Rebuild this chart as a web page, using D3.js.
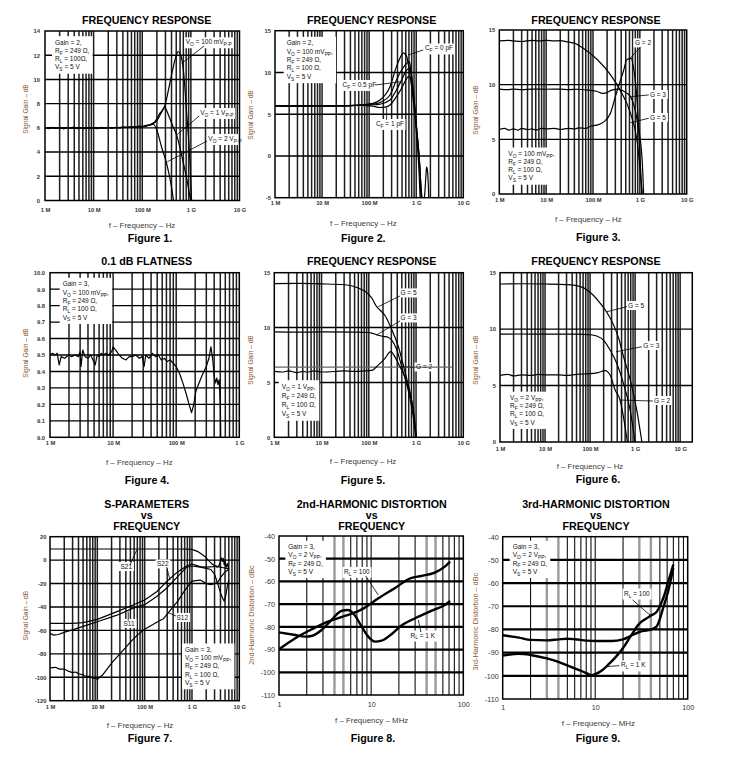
<!DOCTYPE html>
<html><head><meta charset="utf-8">
<script src="https://cdnjs.cloudflare.com/ajax/libs/d3/7.8.5/d3.min.js"></script>
<style>body{margin:0;background:#fff}text{font-family:"Liberation Sans",Arial,sans-serif}</style>
</head><body><svg id="c" width="732" height="773"></svg>
<script>
// ================= DATA =================
const hzTicks = [1e6, 1e7, 1e8, 1e9, 1e10];
const hzTickLabels = ["1 M", "10 M", "100 M", "1 G", "10 G"];
const hzTicks4 = [1e6, 1e7, 1e8, 1e9];
const hzTickLabels4 = ["1 M", "10 M", "100 M", "1 G"];
const mhzTicks = [1, 10, 100];
const mhzTickLabels = ["1", "10", "100"];

const fig1Y = [0, 2, 4, 6, 8, 10, 12, 14];
const fig2Y = [-5, 0, 5, 10, 15];
const gainY = [0, 5, 10, 15];
const fig4Y = [9.0, 9.1, 9.2, 9.3, 9.4, 9.5, 9.6, 9.7, 9.8, 9.9, 10.0];
const fig7Y = [-120, -100, -80, -60, -40, -20, 0, 20];
const distY = [-110, -100, -90, -80, -70, -60, -50, -40];

// Figure 1 (Hz, dB)
const fig1_100mV = [[1e6,6.0],[1.2e6,5.93],[1.4e6,6.05],[1.7e6,5.95],[2e6,6.04],[2.4e6,5.92],[2.8e6,6.03],[3.3e6,5.96],[3.8e6,6.06],[4.5e6,5.94],[5.3e6,6.02],[6.2e6,5.93],[7.2e6,6.05],[8.5e6,5.97],[1e7,6.02],[1.2e7,5.94],[1.45e7,6.04],[1.7e7,5.96],[2e7,6.05],[2.4e7,5.97],[2.9e7,6.04],[3.5e7,6.0],[4.2e7,6.07],[5e7,6.03],[6e7,6.1],[7e7,6.06],[8.5e7,6.14],[1e8,6.12],[1.2e8,6.2],[1.5e8,6.3],[1.8e8,6.5],[2.3e8,7.2],[2.9e8,7.8],[3.7e8,9.7],[4.7e8,11.6],[5.5e8,12.3],[6.4e8,11.8],[7e8,10.8],[8.2e8,7.2],[9.6e8,3.1],[1.04e9,-0.3]];
const fig1_1V = [[1e6,6.0],[3e6,5.98],[1e7,6.0],[3e7,6.02],[1e8,6.1],[1.5e8,6.28],[2e8,6.6],[2.5e8,7.3],[2.9e8,7.7],[3.5e8,7.0],[4.2e8,6.2],[5.1e8,5.4],[7e8,3.1],[8.5e8,1.5],[1.01e9,-0.3]];
const fig1_2V = [[1e6,6.0],[3e6,6.02],[1e7,5.98],[3e7,6.02],[1e8,6.1],[1.5e8,6.25],[1.7e8,6.3],[2e8,5.8],[2.5e8,4.4],[3.15e8,3.1],[4e8,1.1],[4.5e8,-0.3]];

// Figure 2
const fig2_cf0 = [[1e6,6.0],[3e6,6.03],[1e7,5.98],[3e7,6.02],[6.3e7,6.1],[1.2e8,6.3],[1.7e8,6.7],[2.77e8,8.3],[3.8e8,10.7],[4.9e8,12.1],[5.3e8,12.35],[5.8e8,12.2],[6.3e8,11.9],[7e8,10.5],[8.7e8,6.5],[1.02e9,2.5],[1.15e9,-2],[1.22e9,-5.5]];
const fig2_cf025 = [[1e6,6.02],[3e6,5.97],[1e7,6.03],[3e7,5.98],[6.3e7,6.1],[1.2e8,6.2],[1.7e8,6.4],[2.77e8,7.3],[3.8e8,9.1],[4.9e8,10.3],[6.3e8,11.1],[7.1e8,11.3],[7.6e8,10.5],[8.7e8,7.5],[1.02e9,3.2],[1.2e9,-1.5],[1.28e9,-5.5]];
const fig2_cf05 = [[1e6,5.98],[3e6,6.02],[1e7,5.97],[3e7,6.03],[6.3e7,6.08],[1.2e8,6.1],[1.7e8,6.2],[2.77e8,6.7],[3.8e8,7.9],[4.9e8,9.1],[6.3e8,10.3],[7.35e8,10.5],[8e8,9.5],[8.7e8,7.8],[1.02e9,3.4],[1.2e9,-1.7],[1.3e9,-5.5]];
const fig2_cf1 = [[1e6,6.0],[3e6,5.97],[1e7,6.02],[3e7,5.98],[6.3e7,6.05],[1.2e8,5.95],[1.7e8,5.8],[2.2e8,5.85],[2.77e8,6.1],[3.8e8,7.1],[4.9e8,8.1],[6.3e8,9.3],[6.8e8,9.5],[7.5e8,9.3],[8.7e8,7.3],[1.02e9,3.1],[1.2e9,-1.7],[1.3e9,-4.5],[1.38e9,-5.3],[1.5e9,-4.8],[1.6e9,-2.5],[1.66e9,-1.3],[1.75e9,-2],[1.86e9,-5.5]];

// Figure 3
const fig3_g5 = [[1e6,14.0],[1.5e6,14.05],[2e6,14.0],[3e6,13.95],[5e6,14.05],[7e6,14.0],[1e7,14.05],[1.5e7,14.0],[2e7,14.02],[3e7,13.9],[4e7,13.8],[6.3e7,13.3],[1.23e8,12.3],[2.37e8,10.9],[3.8e8,9.5],[6.3e8,7.4],[8.7e8,4.9],[1.14e9,-0.3]];
const fig3_g3 = [[1e6,9.6],[1.5e6,9.55],[2e6,9.6],[3e6,9.55],[5e6,9.6],[1e7,9.58],[2e7,9.6],[3e7,9.55],[5e7,9.58],[8e7,9.5],[1.2e8,9.4],[1.6e8,9.2],[1.9e8,9.25],[2.5e8,9.5],[3.5e8,9.6],[4.5e8,9.4],[6.3e8,8.9],[8.7e8,6.8],[1.12e9,3.1],[1.21e9,-0.3]];
const fig3_g2 = [[1e6,5.9],[1.3e6,6.0],[1.6e6,5.85],[2e6,5.95],[2.5e6,5.85],[3e6,6.0],[4e6,5.9],[5e6,5.95],[6e6,5.85],[8e6,6.0],[1e7,5.95],[1.5e7,6.0],[2e7,5.9],[3e7,6.0],[4e7,5.95],[5e7,6.05],[7e7,6.0],[8.8e7,6.2],[1.2e8,6.3],[1.7e8,6.6],[2.37e8,7.4],[3e8,8.9],[4.5e8,11.3],[5.3e8,12.3],[6.5e8,12.4],[7.3e8,11.6],[8.7e8,8.6],[1e9,3.7],[1.11e9,-0.3]];

// Figure 4
const fig4_flat = [[1e6,9.50],[1.1e6,9.51],[1.2e6,9.50],[1.3e6,9.51],[1.4e6,9.44],[1.5e6,9.49],[1.7e6,9.48],[2e6,9.50],[2.2e6,9.49],[2.5e6,9.50],[2.8e6,9.49],[3e6,9.52],[3.1e6,9.43],[3.3e6,9.53],[3.6e6,9.49],[4e6,9.48],[4.4e6,9.50],[4.8e6,9.47],[5.2e6,9.44],[5.6e6,9.50],[6e6,9.49],[6.5e6,9.51],[7e6,9.50],[7.7e6,9.51],[8.5e6,9.50],[9.5e6,9.52],[1.0e7,9.55],[1.1e7,9.53],[1.25e7,9.50],[1.4e7,9.48],[1.6e7,9.47],[1.8e7,9.49],[2e7,9.49],[2.3e7,9.50],[2.6e7,9.48],[2.9e7,9.49],[3.1e7,9.43],[3.3e7,9.50],[3.7e7,9.48],[4.2e7,9.51],[4.7e7,9.49],[5.2e7,9.50],[5.8e7,9.47],[6.5e7,9.48],[7.2e7,9.46],[8e7,9.47],[9e7,9.45],[1e8,9.43],[1.15e8,9.38],[1.3e8,9.32],[1.45e8,9.26],[1.6e8,9.2],[1.75e8,9.15],[1.9e8,9.2],[2.05e8,9.28],[2.3e8,9.33],[2.6e8,9.38],[3e8,9.43],[3.3e8,9.48],[3.55e8,9.55],[3.8e8,9.47],[4e8,9.37],[4.2e8,9.33],[4.4e8,9.36],[4.6e8,9.32],[4.8e8,9.35],[5e8,9.2],[5.1e8,8.95]];

// Figure 5
const fig5_g5 = [[1e6,14],[3e6,14.02],[1e7,13.98],[3.1e7,13.9],[6e7,13.6],[8.3e7,13.3],[1.15e8,12.7],[1.47e8,11.9],[1.72e8,11.6],[2.2e8,11.1],[3e8,9.9],[4.2e8,8.3],[5.8e8,6.0],[8e8,3.4],[1.04e9,-0.3]];
const fig5_g3 = [[1e6,9.6],[3e6,9.58],[1e7,9.6],[5e7,9.58],[1e8,9.55],[1.15e8,9.5],[1.6e8,9.3],[2e8,9.2],[2.6e8,9.1],[3e8,8.9],[3.9e8,8.0],[5e8,6.4],[6.8e8,4.3],[8.7e8,1.9],[1.01e9,-0.3]];
const fig5_g2 = [[1e6,6.0],[1.5e6,5.95],[2e6,6.05],[3e6,5.9],[4e6,6.0],[5e6,5.95],[7e6,6.05],[1e7,5.95],[2e7,6.0],[3e7,6.05],[5e7,6.0],[8e7,6.05],[1.15e8,6.1],[1.6e8,6.6],[2.2e8,7.2],[2.9e8,7.8],[3.6e8,7.3],[4.6e8,6.4],[5.8e8,5.5],[7.4e8,4.0],[9.2e8,1.9],[1.02e9,-0.3]];
const fig5_ref = [[1e6,6.4],[5.7e9,6.4]];

// Figure 6
const fig6_g5 = [[1e6,14],[3e6,14.02],[1e7,14],[3e7,13.95],[4.3e7,13.9],[8.4e7,13.5],[1.18e8,13.0],[1.67e8,12.3],[2.35e8,11.5],[3.3e8,10.4],[4.3e8,9.2],[5.5e8,7.6],[7.8e8,5.5],[1.09e9,2.8],[1.45e9,-0.3]];
const fig6_g3 = [[1e6,9.55],[3e6,9.57],[1e7,9.55],[5e7,9.55],[1e8,9.5],[1.4e8,9.39],[1.98e8,9.03],[2.78e8,8.15],[3.91e8,6.97],[5.5e8,5.2],[7.76e8,2.83],[1.02e9,-0.3]];
const fig6_g2 = [[1e6,5.9],[1.5e6,6.0],[2e6,5.85],[3e6,5.95],[5e6,5.9],[7e6,6.0],[1e7,5.95],[2e7,5.95],[3e7,5.9],[5e7,6.0],[1e8,6.05],[1.5e8,6.15],[2.15e8,6.32],[2.78e8,5.93],[3.6e8,4.6],[4.65e8,3.7],[5.5e8,2.24],[6.9e8,-0.3]];

// Figure 7
const fig7_s21 = [[1e6,9.5],[1e7,9.5],[1e8,9.5],[5e8,9.5],[8e8,9.4],[1e9,9.2],[1.3e9,7.5],[1.5e9,5.8],[1.9e9,2.9],[2.2e9,0],[2.6e9,-3],[3e9,-4.5],[3.4e9,-6],[3.7e9,-5],[4e9,-1],[4.2e9,2],[4.4e9,-1],[4.6e9,1.5],[4.8e9,-4],[5e9,-1],[5.3e9,-6],[5.6e9,-3],[6e9,-8]];
const fig7_s22 = [[1e6,-54],[3e6,-54],[5e6,-53.4],[1e7,-50.6],[2.6e7,-44],[5.7e7,-38.3],[1e8,-34],[1.8e8,-27],[2.9e8,-18.4],[4.75e8,-10.7],[7.7e8,-5],[1e9,-3.3],[1.47e9,-5.6],[2e9,-6],[2.8e9,-5.5],[3.3e9,-5],[3.9e9,-6],[4.6e9,-6.5],[5.4e9,-7],[6e9,-8]];
const fig7_s11 = [[1e6,-62.5],[1.2e6,-64],[1.5e6,-63.5],[2.2e6,-61],[3e6,-59.5],[5e6,-56.5],[1e7,-52.6],[2.6e7,-47],[5.7e7,-41],[1e8,-38],[1.8e8,-31],[2.9e8,-24],[4.75e8,-15],[7.7e8,-6],[1e9,-5],[1.5e9,-6],[2e9,-7],[2.5e9,-8],[3e9,-12],[3.5e9,-20],[4e9,-28],[4.5e9,-33],[4.8e9,-35],[5.2e9,-30],[5.6e9,-22],[6e9,-17]];
const fig7_s12 = [[1e6,-92],[1.3e6,-91.5],[1.6e6,-93],[2e6,-93],[2.5e6,-95],[3e6,-96],[3.5e6,-95.5],[4e6,-97],[5e6,-98],[6e6,-99.5],[7e6,-99],[8e6,-101],[9e6,-100.5],[1e7,-102],[1.1e7,-100],[1.3e7,-98],[2e7,-88],[3e7,-80],[5e7,-70],[7e7,-64],[1e8,-59],[1.5e8,-55],[2e8,-52],[2.5e8,-50],[3e8,-46],[5e8,-35],[7e8,-26],[1e9,-18],[1.5e9,-17],[2e9,-20],[2.5e9,-21],[3e9,-20],[3.5e9,-19],[4e9,-15],[5e9,-10],[6e9,-8]];

// Figure 8 (MHz, dBc)
const fig8_rl100 = [[1,-89.9],[1.5,-85],[2.26,-81.1],[3.4,-77.7],[5.2,-75.2],[7.9,-72.3],[12,-67.4],[18,-63],[27,-58.6],[35,-57.6],[49,-56.1],[63,-53.5],[72,-51.3]];
const fig8_rl1k = [[1,-82.4],[1.5,-83.6],[1.9,-84.3],[2.3,-83.9],[2.9,-81.4],[3.7,-77],[4.8,-72.9],[5.6,-72.6],[6.6,-74.8],[7.9,-79.9],[9.3,-84.3],[11,-86.5],[13,-86.1],[17,-82.9],[21,-79.6],[30,-76.2],[38,-74.3],[49,-72.3],[63,-70.4],[72,-68.6]];

// Figure 9
const fig9_rl100 = [[1,-82.5],[1.5,-83.5],[2,-84.5],[3,-84.7],[4,-84.3],[5,-84],[6,-84.2],[8,-84.8],[10,-85],[15,-85],[20,-84.3],[25,-82.5],[30.5,-81],[39,-80.2],[46,-78.8],[55,-70],[62,-63],[70,-53.4]];
const fig9_rl1k = [[1,-91.3],[1.5,-90.5],[2,-91],[3,-92.5],[4,-94],[5,-95.5],[6,-96.8],[8,-98.8],[9,-99.7],[10,-99.3],[12,-97.5],[14,-95],[17,-91.5],[20,-88],[25,-82],[30,-77.5],[35,-75.5],[40,-74],[46,-72.5],[50,-70],[55,-66],[62,-59],[70,-52]];

// info texts ({..} = subscript)
const info1 = ["Gain = 2,", "R{F} = 249 Ω,", "R{L}  = 100Ω,", "V{S} = 5 V"];
const info2 = ["Gain = 2,", "V{O} = 100 mV{PP},", "R{F} = 249 Ω,", "R{L} = 100 Ω,", "V{S} = 5 V"];
const info3 = ["V{O} = 100 mV{PP},", "R{F} = 249 Ω,", "R{L} = 100 Ω,", "V{S} = 5 V"];
const info4 = ["Gain = 3,", "V{O} = 100 mV{PP},", "R{F} = 249 Ω,", "R{L} = 100 Ω,", "V{S} = 5 V"];
const info5 = ["V{O} = 1 V{PP},", "R{F} = 249 Ω,", "R{L} = 100 Ω,", "V{S} = 5 V"];
const info6 = ["V{O} = 2 V{PP},", "R{F} = 249 Ω,", "R{L} = 100 Ω,", "V{S} = 5 V"];
const info7 = ["Gain = 3,", "V{O} = 100 mV{PP},", "R{F} = 249 Ω,", "R{L} = 100 Ω,", "V{S} = 5 V"];
const info8 = ["Gain = 3,", "V{O} = 2 V{PP},", "R{F} = 249 Ω,", "V{S} = 5 V"];

// ================= DRAWING =================
const svg = d3.select("#c");
svg.append("rect").attr("width", 732).attr("height", 773).attr("fill", "#fff");

function rich(t, str, size) {
  const parts = str.split(/(\{[^}]*\})/).filter(s => s.length);
  let sh = false;
  parts.forEach(s => {
    if (s[0] === "{") {
      t.append("tspan").attr("font-size", size * 0.75).attr("dy", sh ? 0 : size * 0.3).text(s.slice(1, -1));
      sh = true;
    } else {
      t.append("tspan").attr("dy", sh ? -size * 0.3 : 0).text(s);
      sh = false;
    }
  });
}

function drawPanel(p) {
  const g = svg.append("g");
  const x = d3.scaleLog().domain(p.xd).range([p.L, p.R]);
  const y = d3.scaleLinear().domain(p.yd).range([p.B, p.T]);
  const cid = "clip" + p.id;
  svg.append("clipPath").attr("id", cid).append("rect")
    .attr("x", p.L).attr("y", p.T).attr("width", p.R - p.L).attr("height", p.B - p.T);

  const gGrid = g.append("g"), gBox = g.append("g"), gCurve = g.append("g").attr("clip-path", `url(#${cid})`),
        gLead = g.append("g"), gText = g.append("g");

  // vertical grid
  const vg = [];
  for (let e = Math.floor(Math.log10(p.xd[0])); e <= Math.ceil(Math.log10(p.xd[1])); e++)
    for (let k = 1; k <= 9; k++) {
      const v = k * Math.pow(10, e);
      if (v > p.xd[0] * 1.001 && v < p.xd[1] / 1.001) vg.push({v, k});
    }
  gGrid.selectAll(null).data(vg).join("line")
    .attr("x1", d => x(d.v)).attr("x2", d => x(d.v)).attr("y1", p.T).attr("y2", p.B)
    .attr("stroke", d => (p.grayK && p.grayK.includes(d.k)) ? "#9a9a9a" : p.vCol)
    .attr("stroke-width", d => (p.grayK && p.grayK.includes(d.k)) ? 2.4 : p.vW);
  gGrid.selectAll(null).data(p.hg).join("line")
    .attr("x1", p.L).attr("x2", p.R).attr("y1", d => y(d)).attr("y2", d => y(d))
    .attr("stroke", "#000").attr("stroke-width", p.hW);

  // axes
  const ya = d3.axisLeft(y).tickValues(p.yt).tickSize(0).tickPadding(p.yPad).tickFormat(p.yf || (d => String(d)));
  const yg = g.append("g").attr("transform", `translate(${p.L},0)`).call(ya);
  yg.select(".domain").remove();
  yg.attr("font-family", null).attr("font-size", null);
  yg.selectAll("text").attr("font-size", p.tf).attr("font-weight", p.tw).attr("fill", "#333");
  const xa = d3.axisBottom(x).tickValues(p.xt).tickSize(0).tickPadding(p.xPad).tickFormat((d, i) => p.xl[i]);
  const xg = g.append("g").attr("transform", `translate(0,${p.B})`).call(xa);
  xg.select(".domain").remove();
  xg.attr("font-family", null).attr("font-size", null);
  xg.selectAll("text").attr("font-size", p.tf).attr("font-weight", p.tw).attr("fill", "#333");

  // reference lines
  const line = d3.line().x(d => x(d[0])).y(d => y(d[1])).curve(p.curve);
  (p.refs || []).forEach(r => gCurve.append("path").attr("d", line(r)).attr("fill", "none").attr("stroke", "#666").attr("stroke-width", 1.3));
  // curves
  gCurve.selectAll(null).data(p.series).join("path")
    .attr("d", d => line(d)).attr("fill", "none").attr("stroke", "#000")
    .attr("stroke-width", p.lw).attr("stroke-linejoin", "round");

  // info box
  if (p.info) {
    const it = gText.append("g");
    p.info.lines.forEach((s, i) => {
      const t = it.append("text").attr("x", p.L + p.info.dx).attr("y", p.T + p.info.dy + i * p.info.lh)
        .attr("font-size", 6.5).attr("fill", "#111");
      rich(t, s, 6.5);
    });
    const bb = it.node().getBBox();
    gBox.append("rect").attr("x", bb.x - 3).attr("y", bb.y - 2.5).attr("width", bb.width + 6).attr("height", bb.height + 4)
      .attr("fill", "#fff");
  }
  // labels
  (p.labels || []).forEach(l => {
    const t = gText.append("text").attr("x", x(l.f)).attr("y", y(l.v)).attr("font-size", 6.5).attr("fill", "#111");
    rich(t, l.text, 6.5);
    const bb = t.node().getBBox();
    gBox.append("rect").attr("x", bb.x - 1.5).attr("y", bb.y - 1).attr("width", bb.width + 3).attr("height", bb.height + 2).attr("fill", "#fff");
    const ld = l.lead;
    gLead.append("line").attr("x1", x(ld[0])).attr("y1", y(ld[1])).attr("x2", x(ld[2])).attr("y2", y(ld[3]))
      .attr("stroke", "#000").attr("stroke-width", 0.8);
  });

  // frame
  g.append("rect").attr("x", p.L).attr("y", p.T).attr("width", p.R - p.L).attr("height", p.B - p.T)
    .attr("fill", "none").attr("stroke", "#000").attr("stroke-width", 1.5);

  // titles
  p.title.forEach((s, i) => svg.append("text").attr("x", p.tx).attr("y", p.ty[i]).attr("text-anchor", "middle")
    .attr("font-size", 10.7).attr("font-weight", "bold").attr("fill", "#000").text(s));
  svg.append("text").attr("x", p.cx).attr("y", p.cy).attr("text-anchor", "middle")
    .attr("font-size", 10.7).attr("font-weight", "bold").attr("fill", "#000").text(p.caption);
  svg.append("text").attr("x", p.xtx).attr("y", p.xty).attr("text-anchor", "middle")
    .attr("font-size", 7.9).attr("fill", "#3a3a3a").text(p.xTitle);
  svg.append("text").attr("transform", `translate(${p.ytx},${p.yty}) rotate(-90)`).attr("text-anchor", "middle")
    .attr("font-size", p.ytf).attr("fill", "#8a5530").text(p.yTitle);
}

const hzBase = {xd: [1e6, 1e10], xt: hzTicks, xl: hzTickLabels, vCol: "#1e1e1e", vW: 1.5, hW: 1.4,
  tf: 5.8, tw: "bold", lw: 1.2, curve: d3.curveMonotoneX, xTitle: "f – Frequency – Hz",
  yTitle: "Signal Gain – dB", ytf: 6.6, yPad: 4, xPad: 4};

const panels = [
  Object.assign({}, hzBase, {id: 1, L: 45, R: 239.5, T: 31, B: 200.5, yd: [0, 14], yt: fig1Y, hg: [2,4,6,8,10,12],
    yPad: 5, xPad: 7,
    series: [fig1_100mV, fig1_1V, fig1_2V],
    info: {lines: info1, dx: 10, dy: 13.7, lh: 8.2},
    labels: [
      {text: "V{O} = 100 mV{P-P}", f: 7.8e8, v: 12.9, lead: [1.87e9, 12.76, 6.5e8, 11.33]},
      {text: "V{O} = 1 V{P-P}", f: 1.55e9, v: 7.06, lead: [1.48e9, 6.98, 5.1e8, 5.41]},
      {text: "V{O} = 2 V{P-P}", f: 2.29e9, v: 4.91, lead: [2.15e9, 4.91, 3.28e8, 3.2]}],
    title: ["FREQUENCY RESPONSE"], tx: 146.7, ty: [23.5], caption: "Figure 1.", cx: 150, cy: 242,
    xtx: 142, xty: 227.5, ytx: 28, yty: 109}),
  Object.assign({}, hzBase, {id: 2, L: 275, R: 463.3, T: 30.7, B: 197.7, yd: [-5, 15], yt: fig2Y, hg: [0, 5, 10],
    xPad: 3.5,
    series: [fig2_cf0, fig2_cf025, fig2_cf05, fig2_cf1],
    info: {lines: info2, dx: 11.7, dy: 14.6, lh: 8.35},
    labels: [
      {text: "C{F} = 0 pF", f: 1.53e9, v: 12.63, lead: [1.41e9, 12.69, 6.76e8, 12.09]},
      {text: "C{F} = 0.5 pF", f: 2.73e7, v: 8.26, lead: [1.36e8, 8.5, 4.73e8, 8.89]},
      {text: "C{F} = 1 pF", f: 1.39e8, v: 3.59, lead: [2.35e8, 4.31, 2.35e8, 5.83]}],
    title: ["FREQUENCY RESPONSE"], tx: 371.7, ty: [23.5], caption: "Figure 2.", cx: 363.3, cy: 241.7,
    xtx: 363.3, xty: 225.7, ytx: 252.5, yty: 115}),
  Object.assign({}, hzBase, {id: 3, L: 499.3, R: 686.7, T: 30, B: 194, yd: [0, 15], yt: gainY, hg: [5, 10],
    series: [fig3_g5, fig3_g3, fig3_g2],
    info: {lines: info3, dx: 9, dy: 126, lh: 8.1},
    labels: [
      {text: "G = 2", f: 7.85e8, v: 13.59, lead: [1.03e9, 13.45, 5.78e8, 12.26]},
      {text: "G = 3", f: 1.64e9, v: 8.87, lead: [1.55e9, 9.06, 6.3e8, 8.9]},
      {text: "G = 5", f: 1.64e9, v: 6.77, lead: [1.55e9, 6.93, 6.3e8, 6.52]}],
    title: ["FREQUENCY RESPONSE"], tx: 596, ty: [23.5], caption: "Figure 3.", cx: 598.3, cy: 241,
    xtx: 588.3, xty: 221.7, ytx: 477.5, yty: 110}),
  Object.assign({}, hzBase, {id: 4, L: 50, R: 239.3, T: 272.7, B: 437.3, xd: [1e6, 1e9], xt: hzTicks4, xl: hzTickLabels4,
    yd: [9, 10], yt: fig4Y, yf: d3.format(".1f"), hg: [9.1,9.2,9.3,9.4,9.5,9.6,9.7,9.8,9.9], yPad: 5,
    curve: d3.curveLinear, series: [fig4_flat],
    info: {lines: info4, dx: 12.7, dy: 13.6, lh: 8.3},
    title: ["0.1 dB FLATNESS"], tx: 146.7, ty: [265], caption: "Figure 4.", cx: 147, cy: 484,
    xtx: 139.3, xty: 465.3, ytx: 28, yty: 353}),
  Object.assign({}, hzBase, {id: 5, L: 274.3, R: 463.3, T: 272.7, B: 437.3, yd: [0, 15], yt: gainY, hg: [5, 10],
    series: [fig5_g5, fig5_g3, fig5_g2], refs: [fig5_ref],
    info: {lines: info5, dx: 7.4, dy: 116, lh: 9.2},
    labels: [
      {text: "G = 5", f: 4.69e8, v: 12.93, lead: [4.58e8, 12.88, 1.59e8, 11.9]},
      {text: "G = 3", f: 4.69e8, v: 10.65, lead: [4.58e8, 10.6, 1.47e8, 9.33]},
      {text: "G = 2", f: 1.0e9, v: 6.18, lead: [9.2e8, 6.38, 4.58e8, 6.44]}],
    title: ["FREQUENCY RESPONSE"], tx: 371.7, ty: [265], caption: "Figure 5.", cx: 363, cy: 483.5,
    xtx: 363, xty: 463.7, ytx: 252.5, yty: 360}),
  Object.assign({}, hzBase, {id: 6, L: 500, R: 692.3, T: 272.7, B: 442, xd: [1e6, 1.86e10], yd: [0, 15], yt: gainY, hg: [5, 10],
    xPad: 4.5,
    series: [fig6_g5, fig6_g3, fig6_g2],
    info: {lines: info6, dx: 10, dy: 127.5, lh: 8.1},
    labels: [
      {text: "G = 5", f: 6.99e8, v: 11.87, lead: [6.55e8, 11.99, 2.35e8, 11.54]},
      {text: "G = 3", f: 1.51e9, v: 8.33, lead: [1.41e9, 8.44, 3.78e8, 8.0]},
      {text: "G = 2", f: 2.64e9, v: 3.46, lead: [2.47e9, 3.63, 4.64e8, 3.72]}],
    title: ["FREQUENCY RESPONSE"], tx: 596, ty: [265], caption: "Figure 6.", cx: 598, cy: 483,
    xtx: 590, xty: 469, ytx: 477.5, yty: 360}),
  Object.assign({}, hzBase, {id: 7, L: 50, R: 239.3, T: 536.7, B: 700.7, yd: [-120, 20], yt: fig7Y,
    hg: [-100, -80, -60, -40, -20, 0], yPad: 3.5, curve: d3.curveLinear,
    series: [fig7_s21, fig7_s22, fig7_s11, fig7_s12],
    info: {lines: info7, dx: 135, dy: 115.3, lh: 8.2},
    labels: [
      {text: "S21", f: 3.09e7, v: -7.6, lead: [4.9e7, -4.2, 6.8e7, 8.6]},
      {text: "S22", f: 1.82e8, v: -5.4, lead: [2.92e8, -5.9, 3.43e8, -17]},
      {text: "S11", f: 3.57e7, v: -56.2, lead: [4.5e7, -51.7, 4.5e7, -44]},
      {text: "S12", f: 4.71e8, v: -51.1, lead: [4.59e8, -47.7, 3.2e8, -45]}],
    title: ["S-PARAMETERS", "vs", "FREQUENCY"], tx: 146.7, ty: [507.5, 518.5, 529.5], caption: "Figure 7.", cx: 150, cy: 742,
    xtx: 140, xty: 728, ytx: 28, yty: 615.7}),
  {id: 8, L: 279, R: 463.3, T: 536, B: 695, xd: [1, 100], xt: mhzTicks, xl: mhzTickLabels, vCol: "#111", vW: 1.1, hW: 2.2,
    grayK: [4, 5], tf: 7.2, tw: "normal", lw: 2.4, curve: d3.curveMonotoneX, yd: [-110, -40], yt: distY,
    hg: [-100, -90, -80, -70, -60, -50], yPad: 4, xPad: 6.5,
    series: [fig8_rl100, fig8_rl1k],
    info: {lines: info8, dx: 9.3, dy: 13.3, lh: 8.1},
    labels: [
      {text: "R{L} = 100", f: 5.07, v: -56.7, lead: [8.73, -57.6, 11.97, -66]},
      {text: "R{L} = 1 K", f: 26.7, v: -84.7, lead: [34.7, -82.3, 32.5, -77]}],
    title: ["2nd-HARMONIC DISTORTION", "vs", "FREQUENCY"], tx: 371.7, ty: [507.5, 518.5, 529.5], caption: "Figure 8.", cx: 373, cy: 742,
    xTitle: "f – Frequency – MHz", xtx: 371.7, xty: 723, yTitle: "2nd-Harmonic Distortion – dBc", ytf: 7.3, ytx: 253.5, yty: 615},
  {id: 9, L: 502.7, R: 687.7, T: 536.7, B: 699, xd: [1, 100], xt: mhzTicks, xl: mhzTickLabels, vCol: "#111", vW: 1.1, hW: 2.2,
    grayK: [3, 4], tf: 7.2, tw: "normal", lw: 2.4, curve: d3.curveMonotoneX, yd: [-110, -40], yt: distY,
    hg: [-100, -90, -80, -70, -60, -50], yPad: 4, xPad: 6,
    series: [fig9_rl100, fig9_rl1k],
    info: {lines: info8, dx: 10, dy: 12.6, lh: 8.1},
    labels: [
      {text: "R{L} = 100", f: 20.5, v: -65.4, lead: [25.4, -67.3, 39.1, -73.8]},
      {text: "R{L} = 1 K", f: 19, v: -96.4, lead: [18.2, -95.6, 12.8, -96.1]}],
    title: ["3rd-HARMONIC DISTORTION", "vs", "FREQUENCY"], tx: 596, ty: [507.5, 518.5, 529.5], caption: "Figure 9.", cx: 598, cy: 742,
    xTitle: "f – Frequency – MHz", xtx: 598.3, xty: 726.3, yTitle: "3rd-Harmonic Distortion – dBc", ytf: 7.3, ytx: 477.5, yty: 621.7}
];
panels.forEach(drawPanel);
</script></body></html>
